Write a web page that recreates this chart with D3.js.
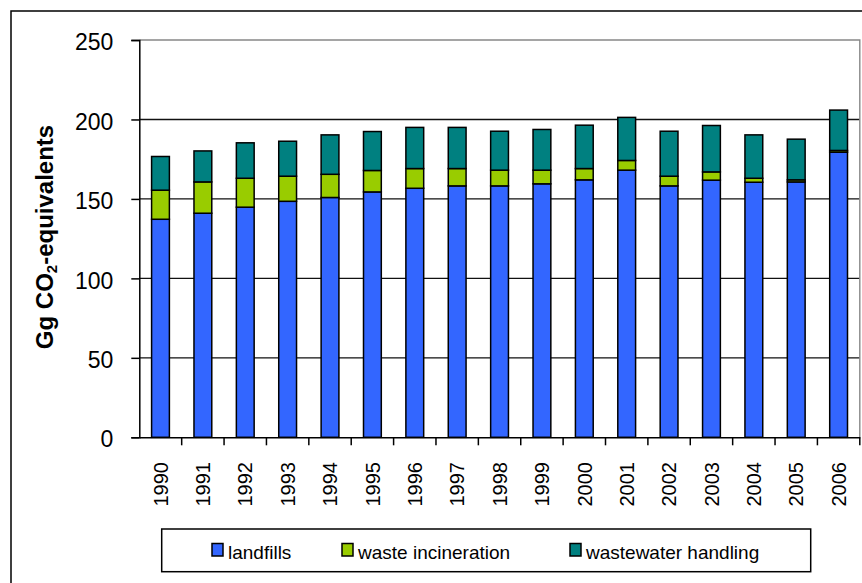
<!DOCTYPE html>
<html>
<head>
<meta charset="utf-8">
<script src="https://cdn.jsdelivr.net/npm/d3@7"></script>
<style>
  html, body { margin: 0; padding: 0; background: #fff; }
  svg { display: block; font-family: "Liberation Sans", Arial, sans-serif; }
</style>
</head>
<body>
<svg id="chart" width="862" height="583"></svg>
<script>
// Waste sector emissions, Gg CO2-equivalents
const years = ["1990","1991","1992","1993","1994","1995","1996","1997","1998",
               "1999","2000","2001","2002","2003","2004","2005","2006"];
const landfills   = [137.2,141.0,144.8,148.5,150.9,154.4,156.7,158.2,158.2,159.5,162.0,168.1,158.2,161.8,160.5,160.7,179.4];
const incineration = [18.3,19.7,18.2,15.8,14.6,13.5,12.4,10.9,9.9,8.6,7.1,6.1,6.1,5.2,2.5,1.3,1.1];
const wastewater  = [21.2,19.5,22.3,22.0,24.8,24.5,25.9,25.9,24.5,25.6,27.3,27.1,28.3,29.2,27.3,25.6,25.4];
const yTicks = [0,50,100,150,200,250];

const seriesKeys = ["landfills","waste incineration","wastewater handling"];
const seriesColors = ["#3366ff","#99cc00","#008080"];

const table = years.map((y, i) => ({
  year: y,
  "landfills": landfills[i],
  "waste incineration": incineration[i],
  "wastewater handling": wastewater[i]
}));

const svg = d3.select("#chart");
const plot = { left: 139.3, right: 859.8, top: 40, bottom: 437.3 };

const x = d3.scaleBand().domain(years).range([plot.left, plot.right]).paddingInner(0).paddingOuter(0);
const y = d3.scaleLinear().domain([0, 250]).range([plot.bottom, plot.top]);
const color = d3.scaleOrdinal().domain(seriesKeys).range(seriesColors);

// outer frame
svg.append("rect")
  .attr("x", 11).attr("y", 11).attr("width", 900).attr("height", 900)
  .attr("fill", "none").attr("stroke", "#000").attr("stroke-width", 1.5);

// horizontal gridlines
svg.append("g").selectAll("line")
  .data(yTicks.filter(t => t > 0 && t < 250))
  .join("line")
  .attr("x1", plot.left).attr("x2", plot.right)
  .attr("y1", d => y(d)).attr("y2", d => y(d))
  .attr("stroke", "#111").attr("stroke-width", 1.4);

// plot area border (top and right)
svg.append("path")
  .attr("d", `M${plot.left},${y(250)}H${plot.right}V${y(0)}`)
  .attr("fill", "none").attr("stroke", "#888").attr("stroke-width", 1.4);

// stacked bars
const stacked = d3.stack().keys(seriesKeys)(table);
const barW = x.bandwidth() * 0.42;
svg.append("g").selectAll("g")
  .data(stacked)
  .join("g")
  .attr("fill", d => color(d.key))
  .selectAll("rect")
  .data(d => d)
  .join("rect")
  .attr("x", d => x(d.data.year) + (x.bandwidth() - barW) / 2)
  .attr("width", barW)
  .attr("y", d => y(d[1]))
  .attr("height", d => y(d[0]) - y(d[1]))
  .attr("stroke", "#000").attr("stroke-width", 1.5);

// y axis
const yAxis = svg.append("g")
  .attr("transform", `translate(${plot.left},0)`)
  .call(d3.axisLeft(y).tickValues(yTicks).tickSize(8).tickPadding(18).tickFormat(d3.format("d")));
yAxis.select(".domain").attr("stroke", "#000").attr("stroke-width", 1.5);
yAxis.selectAll(".tick line").attr("stroke", "#000").attr("stroke-width", 1.5);
yAxis.selectAll(".tick text")
  .attr("font-size", 23).attr("fill", "#000")
  .attr("font-family", "'Liberation Sans', Arial, sans-serif")
  .attr("dy", "0.42em");

// x axis
const xAxis = svg.append("g")
  .attr("transform", `translate(0,${plot.bottom})`)
  .call(d3.axisBottom(x).tickSize(0).tickFormat(""));
xAxis.select(".domain").attr("stroke", "#000").attr("stroke-width", 1.5);
// tick marks sit between categories
svg.append("g").selectAll("line")
  .data(years.slice(1))
  .join("line")
  .attr("x1", d => x(d)).attr("x2", d => x(d))
  .attr("y1", plot.bottom).attr("y2", plot.bottom + 8)
  .attr("stroke", "#000").attr("stroke-width", 1.5);
svg.append("line")
  .attr("x1", plot.right).attr("x2", plot.right)
  .attr("y1", plot.bottom).attr("y2", plot.bottom + 8)
  .attr("stroke", "#000").attr("stroke-width", 1.5);

// rotated year labels
svg.append("g").selectAll("text")
  .data(years)
  .join("text")
  .attr("transform", d => `translate(${x(d) + x.bandwidth() / 2},462) rotate(-90)`)
  .attr("text-anchor", "end")
  .attr("dy", "0.36em")
  .attr("font-size", 20)
  .text(d => d);

// y axis title
const title = svg.append("text")
  .attr("transform", "translate(53,237) rotate(-90)")
  .attr("text-anchor", "middle")
  .attr("font-size", 24)
  .attr("font-weight", "bold");
title.append("tspan").text("Gg CO");
title.append("tspan").attr("font-size", 15).attr("dy", 4).text("2");
title.append("tspan").attr("dy", -4).text("-equivalents");

// legend
const legend = svg.append("g");
legend.append("rect")
  .attr("x", 161.7).attr("y", 529).attr("width", 649).attr("height", 42.7)
  .attr("fill", "#fff").attr("stroke", "#000").attr("stroke-width", 1.5);
const legendX = [212, 342, 570];
const items = legend.selectAll("g.item")
  .data(seriesKeys)
  .join("g")
  .attr("class", "item")
  .attr("transform", (d, i) => `translate(${legendX[i]},0)`);
items.append("rect")
  .attr("x", 0).attr("y", 543.5).attr("width", 11).attr("height", 12.5)
  .attr("fill", d => color(d)).attr("stroke", "#000").attr("stroke-width", 1.5);
items.append("text")
  .attr("x", 16).attr("y", 559)
  .attr("font-size", 19)
  .text(d => d);
</script>
</body>
</html>
